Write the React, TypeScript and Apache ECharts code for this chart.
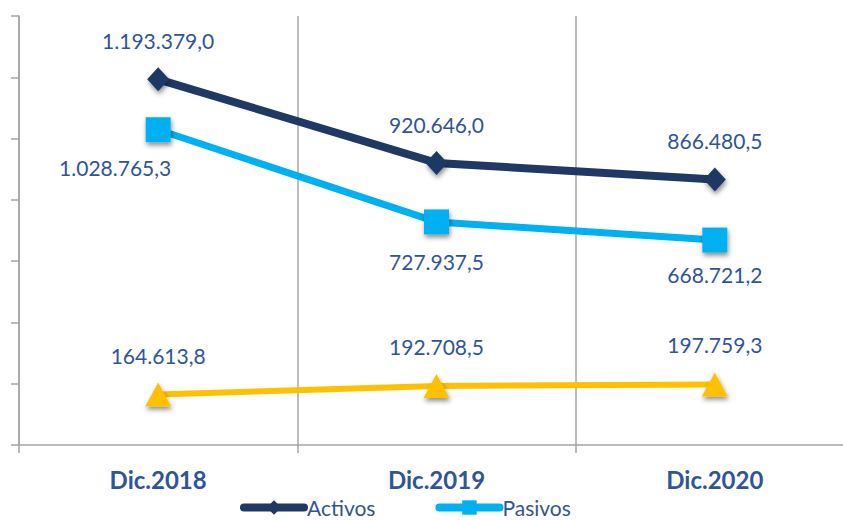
import React, { useEffect, useRef } from "react";
import * as echarts from "echarts";

const categories = ["Dic.2018", "Dic.2019", "Dic.2020"];
const activos = [1193379.0, 920646.0, 866480.5];
const pasivos = [1028765.3, 727937.5, 668721.2];
const patrimonio = [164613.8, 192708.5, 197759.3];

const fmt = (v: number) => {
  const [i, d] = v.toFixed(1).split(".");
  return i.replace(/\B(?=(\d{3})+(?!\d))/g, ".") + "," + d;
};

const FONT = "Lato";
const LABEL_COLOR = "#2F5597";

export default function App() {
  const ref = useRef<HTMLDivElement>(null);
  useEffect(() => {
    const chart = echarts.init(ref.current!, null, { renderer: "svg" });
    const shadow = {
      shadowColor: "rgba(0,0,0,0.45)",
      shadowBlur: 5,
      shadowOffsetX: 1,
      shadowOffsetY: 3,
    };
    const labelBase = {
      show: true,
      color: LABEL_COLOR,
      fontFamily: FONT,
      fontSize: 21,
      formatter: (p: any) => fmt(p.value),
    };
    chart.setOption({
      animation: false,
      backgroundColor: "#fff",
      grid: { left: 19, right: 0, top: 16, bottom: 75, containLabel: false },
      legend: {
        data: ["Activos", "Pasivos"],
        top: 497,
        left: 240,
        padding: 0,
        itemWidth: 60,
        itemHeight: 18,
        itemGap: 60,
        lineStyle: { width: 8, cap: "round" },
        textStyle: {
          color: LABEL_COLOR,
          fontFamily: FONT,
          fontSize: 21,
          lineHeight: 21,
          padding: [0, 0, 0, -2],
        },
      },
      xAxis: {
        type: "category",
        data: categories,
        boundaryGap: true,
        axisLine: { lineStyle: { color: "#a6a6a6", width: 1.5 } },
        axisTick: { show: true, length: 8, lineStyle: { color: "#a6a6a6", width: 1.5 } },
        splitLine: { show: true, lineStyle: { color: "#a6a6a6", width: 1.5 } },
        axisLabel: {
          color: LABEL_COLOR,
          fontFamily: FONT,
          fontWeight: "bold",
          fontSize: 24,
          margin: 22,
        },
      },
      yAxis: {
        type: "value",
        min: 0,
        max: 1400000,
        interval: 200000,
        axisLine: { show: true, lineStyle: { color: "#a6a6a6", width: 1.5 } },
        axisTick: { show: true, length: 8, lineStyle: { color: "#a6a6a6", width: 1.5 } },
        splitLine: { show: false },
        axisLabel: { show: false },
      },
      series: [
        {
          name: "Activos",
          type: "line",
          data: activos,
          symbol: "diamond",
          symbolSize: [22, 24],
          lineStyle: { color: "#1F3864", width: 8 },
          itemStyle: { color: "#1F3864", ...shadow },
          label: { ...labelBase, position: "top", distance: 16 },
          z: 3,
        },
        {
          name: "Pasivos",
          type: "line",
          data: pasivos,
          symbol: "rect",
          symbolSize: 25,
          lineStyle: { color: "#00B0F0", width: 7 },
          itemStyle: { color: "#00B0F0", ...shadow },
          label: { ...labelBase, position: "bottom", distance: 17 },
          labelLayout: (p: any) =>
            p.dataIndex === 0 ? { dx: -43, dy: -2 } : p.dataIndex === 2 ? { dy: -6 } : {},
          z: 2,
        },
        {
          name: "Patrimonio",
          type: "line",
          data: patrimonio,
          symbol: "triangle",
          symbolSize: [26, 24],
          lineStyle: { color: "#FFC000", width: 6 },
          itemStyle: { color: "#FFC000", ...shadow },
          label: { ...labelBase, position: "top", distance: 17 },
          z: 1,
        },
      ],
    });
    return () => chart.dispose();
  }, []);
  return (
    <div style={{ position: "fixed", left: 0, top: 0, width: 843, height: 520, overflow: "hidden" }}>
      <div ref={ref} style={{ width: 854, height: 520 }} />
    </div>
  );
}
